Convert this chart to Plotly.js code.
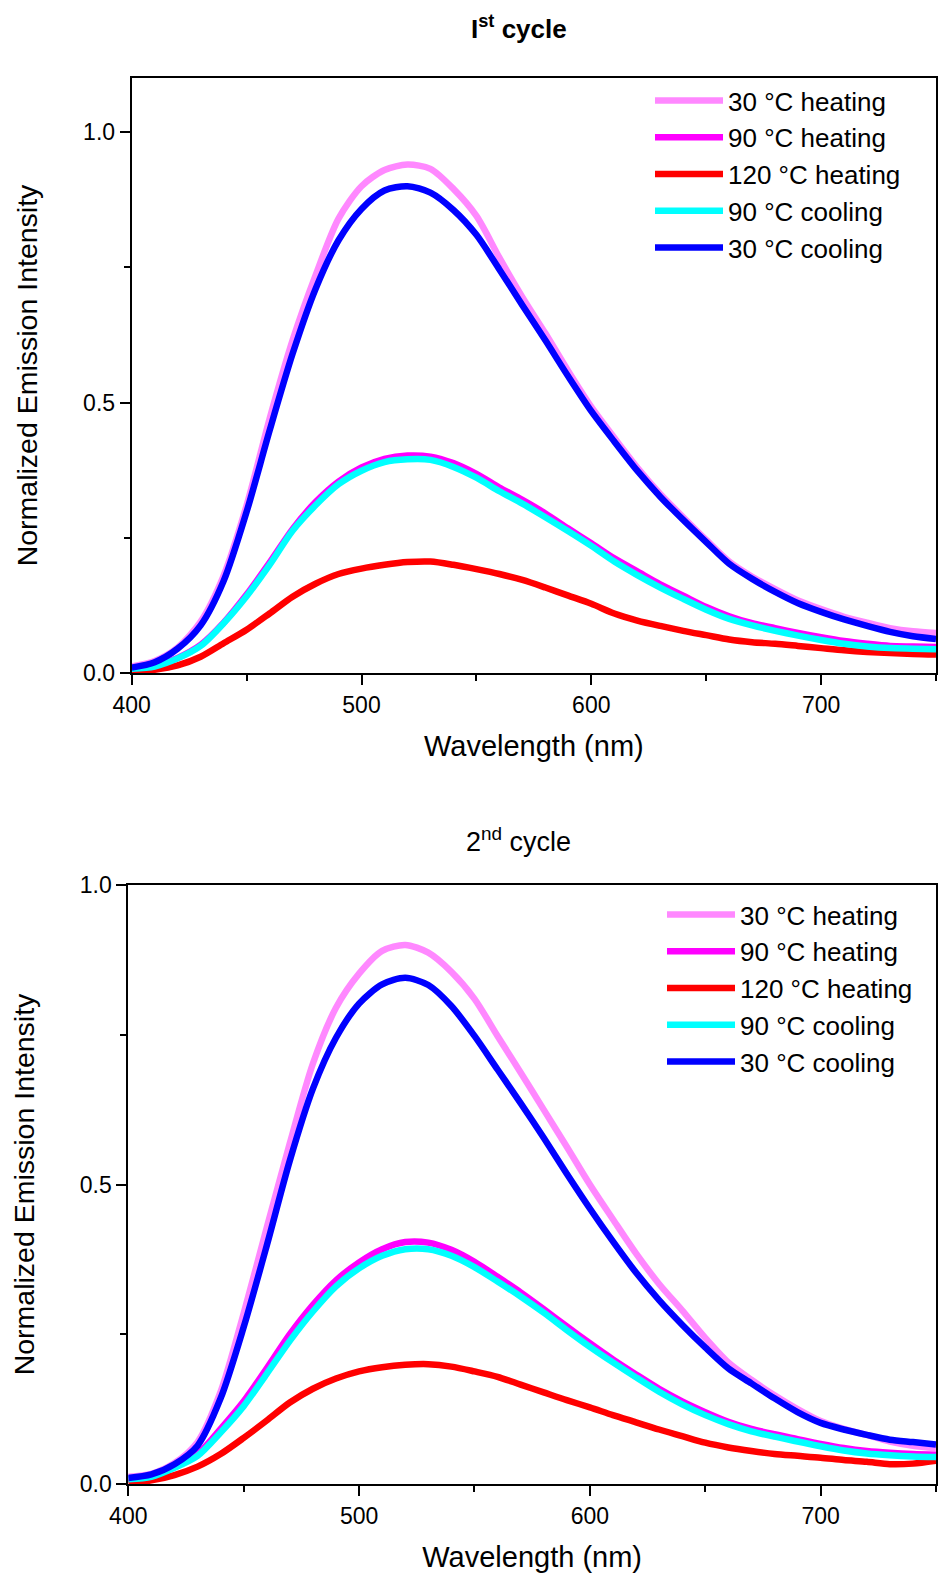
<!DOCTYPE html>
<html>
<head>
<meta charset="utf-8">
<script src="https://cdn.plot.ly/plotly-3.0.1.min.js"></script>
<style>html,body{margin:0;padding:0;background:#fff;}#chart{width:938px;height:1576px;}</style>
</head>
<body>
<div id="chart"></div>
<script>
// Wavelength grid (nm)
var wavelength = [400,410,420,430,440,450,460,470,480,490,500,510,520,530,540,550,560,570,580,590,600,610,620,630,640,650,660,670,680,690,700,710,720,730,740,750];

var seriesNames = ["30 °C heating", "90 °C heating", "120 °C heating", "90 °C cooling", "30 °C cooling"];
var seriesColors = ["#FF88FF", "#FF00FF", "#FF0000", "#00FFFF", "#0000FF"];

// 1st cycle
var c1_30heat = [0.012,0.022,0.047,0.095,0.18,0.31,0.47,0.615,0.735,0.84,0.9,0.93,0.94,0.932,0.895,0.845,0.768,0.695,0.628,0.558,0.492,0.435,0.38,0.331,0.288,0.246,0.206,0.178,0.155,0.134,0.118,0.104,0.093,0.083,0.077,0.074];
var c1_90heat = [0.008,0.013,0.028,0.052,0.093,0.145,0.204,0.266,0.316,0.354,0.38,0.396,0.402,0.4,0.388,0.368,0.343,0.32,0.295,0.267,0.24,0.212,0.188,0.164,0.143,0.122,0.105,0.092,0.083,0.074,0.066,0.059,0.054,0.05,0.049,0.048];
var c1_120heat = [0.002,0.006,0.014,0.03,0.055,0.08,0.11,0.141,0.165,0.183,0.193,0.2,0.205,0.206,0.2,0.192,0.183,0.172,0.158,0.143,0.128,0.11,0.097,0.087,0.078,0.07,0.062,0.057,0.054,0.05,0.046,0.042,0.039,0.037,0.035,0.034];
var c1_90cool = [0.008,0.012,0.027,0.05,0.092,0.142,0.2,0.263,0.31,0.349,0.374,0.39,0.395,0.394,0.381,0.361,0.336,0.313,0.288,0.262,0.235,0.206,0.181,0.158,0.137,0.117,0.1,0.088,0.078,0.069,0.061,0.054,0.049,0.046,0.045,0.044];
var c1_30cool = [0.01,0.02,0.045,0.088,0.17,0.298,0.448,0.59,0.71,0.8,0.858,0.892,0.9,0.888,0.856,0.81,0.746,0.68,0.615,0.548,0.484,0.428,0.374,0.326,0.283,0.242,0.202,0.174,0.15,0.129,0.113,0.099,0.087,0.076,0.068,0.063];

// 2nd cycle
var c2_30heat = [0.012,0.017,0.035,0.07,0.154,0.285,0.428,0.569,0.702,0.795,0.852,0.89,0.9,0.887,0.855,0.81,0.748,0.687,0.625,0.563,0.5,0.442,0.385,0.334,0.29,0.244,0.203,0.174,0.148,0.125,0.105,0.092,0.082,0.071,0.064,0.06];
var c2_90heat = [0.008,0.013,0.029,0.05,0.092,0.138,0.193,0.25,0.299,0.34,0.37,0.392,0.404,0.403,0.391,0.371,0.346,0.32,0.292,0.263,0.235,0.208,0.183,0.159,0.138,0.12,0.104,0.092,0.083,0.075,0.067,0.06,0.055,0.052,0.05,0.049];
var c2_120heat = [0.002,0.006,0.015,0.029,0.05,0.077,0.106,0.136,0.159,0.176,0.188,0.195,0.199,0.2,0.196,0.188,0.179,0.166,0.153,0.14,0.128,0.115,0.103,0.091,0.08,0.069,0.061,0.055,0.05,0.047,0.044,0.04,0.037,0.033,0.034,0.039];
var c2_90cool = [0.008,0.012,0.027,0.047,0.086,0.13,0.184,0.239,0.288,0.33,0.36,0.381,0.392,0.392,0.381,0.362,0.338,0.313,0.286,0.257,0.229,0.203,0.178,0.154,0.133,0.115,0.1,0.088,0.079,0.071,0.063,0.056,0.051,0.048,0.046,0.045];
var c2_30cool = [0.01,0.016,0.033,0.064,0.143,0.262,0.398,0.54,0.66,0.745,0.802,0.834,0.845,0.833,0.798,0.748,0.692,0.636,0.578,0.518,0.46,0.405,0.353,0.307,0.266,0.228,0.193,0.168,0.143,0.12,0.102,0.091,0.082,0.074,0.07,0.066];

var xTickVals = [400, 500, 600, 700];
var yTickVals = [0, 0.5, 1.0];
var yTickText = ["0.0", "0.5", "1.0"];

var cycle1 = [c1_30heat, c1_90heat, c1_120heat, c1_90cool, c1_30cool];
var cycle2 = [c2_30heat, c2_90heat, c2_120heat, c2_90cool, c2_30cool];

var FONT = "Liberation Sans, Arial, sans-serif";
var traces = [];
cycle1.forEach(function(ys, i){
  traces.push({x: wavelength, y: ys, type: 'scatter', mode: 'lines', name: seriesNames[i],
    line: {color: seriesColors[i], width: 6.5, shape: 'spline', smoothing: 0.8},
    xaxis: 'x', yaxis: 'y', legend: 'legend'});
});
cycle2.forEach(function(ys, i){
  traces.push({x: wavelength, y: ys, type: 'scatter', mode: 'lines', name: seriesNames[i],
    line: {color: seriesColors[i], width: 6.5, shape: 'spline', smoothing: 0.8},
    xaxis: 'x2', yaxis: 'y2', legend: 'legend2'});
});

var W = 938, H = 1576;
function px(p){ return p / W; }
function py(p){ return 1 - p / H; }

function xAxis(domain, anchor){
  return {domain: domain, anchor: anchor, range: [400, 750], tickvals: xTickVals,
    ticks: 'outside', ticklen: 10, tickwidth: 2, tickcolor: '#000',
    minor: {dtick: 50, tick0: 450, ticks: 'outside', ticklen: 6, tickwidth: 2, tickcolor: '#000', showgrid: false},
    showline: true, linewidth: 2, linecolor: '#000', mirror: true,
    showgrid: false, zeroline: false,
    tickfont: {family: FONT, size: 23, color: '#000'},
    title: {text: 'Wavelength (nm)', font: {family: FONT, size: 29, color: '#000'}, standoff: 19}};
}
function yAxis(domain, anchor, range){
  return {domain: domain, anchor: anchor, range: range, tickvals: yTickVals, ticktext: yTickText,
    ticks: 'outside', ticklen: 10, tickwidth: 2, tickcolor: '#000',
    minor: {dtick: 0.25, tick0: 0, ticks: 'outside', ticklen: 6, tickwidth: 2, tickcolor: '#000', showgrid: false},
    showline: true, linewidth: 2, linecolor: '#000', mirror: true,
    showgrid: false, zeroline: false,
    tickfont: {family: FONT, size: 23, color: '#000'},
    title: {text: 'Normalized Emission Intensity', font: {family: FONT, size: 28.5, color: '#000'}, standoff: 37}};
}

var legendBase = {font: {family: FONT, size: 26, color: '#000'}, bgcolor: 'rgba(0,0,0,0)', borderwidth: 0,
  itemwidth: 68, xanchor: 'left', yanchor: 'top', tracegroupgap: 0};

var layout = {
  width: W, height: H,
  margin: {l: 0, r: 0, t: 0, b: 0},
  paper_bgcolor: '#fff', plot_bgcolor: '#fff',
  showlegend: true,
  xaxis: xAxis([px(131.7), px(936)], 'y'),
  yaxis: yAxis([py(673), py(78)], 'x', [0, 1.1]),
  xaxis2: xAxis([px(128.3), px(936)], 'y2'),
  yaxis2: yAxis([py(1484), py(885)], 'x2', [0, 1.0]),
  legend: Object.assign({}, legendBase, {x: px(650), y: py(77)}),
  legend2: Object.assign({}, legendBase, {x: px(662), y: py(891)}),
  annotations: [
    {text: '<b>I<sup>st</sup> cycle</b>', xref: 'paper', yref: 'paper', x: px(519), y: py(28),
     xanchor: 'center', yanchor: 'middle', showarrow: false, font: {family: FONT, size: 26, color: '#000'}},
    {text: '2<sup>nd</sup> cycle', xref: 'paper', yref: 'paper', x: px(518), y: py(840),
     xanchor: 'center', yanchor: 'middle', showarrow: false, font: {family: FONT, size: 27, color: '#000'}}
  ]
};

Plotly.newPlot('chart', traces, layout, {displayModeBar: false, staticPlot: true});
</script>
</body>
</html>
